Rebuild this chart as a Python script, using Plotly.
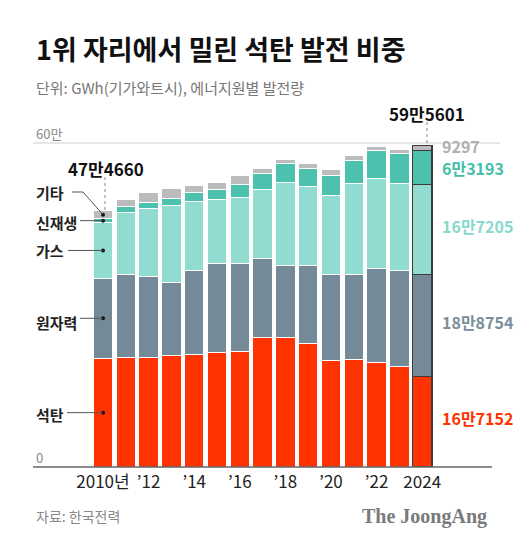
import plotly.graph_objects as go

# ---------------- data (GWh) ----------------
years = list(range(2010, 2025))
coal      = [201300, 203200, 203200, 205600, 208700, 211700, 214200, 239500, 239500, 228400, 196900, 198200, 193900, 185200, 167152]
nuclear   = [148200, 154200, 149300, 137000, 154900, 164300, 161800, 147000, 132800, 144400, 159300, 157400, 174600, 179600, 188754]
gas       = [103000, 114200, 126600, 141400, 127800, 119700, 122800, 127700, 153700, 145800, 147500, 169800, 164900, 159900, 167205]
renewable = [7400, 10500, 10400, 12900, 17300, 18600, 23500, 29700, 35200, 35100, 35200, 42600, 52400, 55000, 63193]
other     = [14760, 13700, 19200, 19200, 12900, 13000, 17200, 8600, 8700, 8700, 12400, 8600, 8200, 8000, 9297]

series_names = ["석탄", "원자력", "가스", "신재생", "기타"]
tick_years = [2010, 2012, 2014, 2016, 2018, 2020, 2022, 2024]
tick_labels = ["2010년", "’12", "’14", "’16", "’18", "’20", "’22", "2024"]
y_tick_labels = ["0", "60만"]

title_text = "1위 자리에서 밀린 석탄 발전 비중"
subtitle_text = "단위: GWh(기가와트시), 에너지원별 발전량"
source_text = "자료: 한국전력"
brand_text = "The JoongAng"

# ---------------- styling ----------------
colors = ["#ff3300", "#748a98", "#90dcd1", "#4cc2ae", "#bcbcbe"]
text_colors = ["#ff3300", "#7a8e9b", "#88d8cc", "#44bfa9", "#b0b0b0"]
KR = "Noto Sans CJK KR"

WIN_W, WIN_H = 530, 547
OFF = 8                       # page body margin
PL, PR, PT, PB = 33, 492, 143, 467   # plot area in window pixels
W, H = WIN_W - OFF, WIN_H - OFF
L = PL - OFF
T = PT - OFF
R = W - (PR - OFF)
B = H - (PB - OFF)
PW = PR - PL
PH = PB - PT
YMAX = 600000
SLOT = 22.8
XMIN = 2010 - (103 - PL) / SLOT
XMAX = XMIN + PW / SLOT


def px(x):
    return (x - PL) / PW


def py(y):
    return (PB - y) / PH


def xp(year):
    return (year - XMIN) / (XMAX - XMIN)


def yp(v):
    return v / YMAX


def man(v):
    v = int(round(v))
    if v >= 10000:
        return f"{v // 10000}만{v % 10000}"
    return str(v)


series = [coal, nuclear, gas, renewable, other]
totals = [sum(s[i] for s in series) for i in range(len(years))]

fig = go.Figure()
n = len(years)
for name, vals, col in zip(series_names, series, colors):
    fig.add_trace(go.Bar(
        x=years, y=vals, name=name,
        marker=dict(color=col,
                    line=dict(color=["white"] * (n - 1) + ["#3c3c3c"],
                              width=[1] * (n - 1) + [1.3])),
        hoverinfo="x+y+name",
    ))

# dots at middle of 2010 segments
mids = []
acc = 0
for vals in series:
    mids.append(acc + vals[0] / 2)
    acc += vals[0]
fig.add_trace(go.Scatter(
    x=[years[0]] * len(mids), y=mids, mode="markers",
    marker=dict(color="#111", size=4), hoverinfo="skip", cliponaxis=False,
))

shapes = []
# 60만 gridline and baseline
shapes.append(dict(type="line", xref="paper", yref="paper", x0=0, x1=px(500),
                   y0=yp(YMAX), y1=yp(YMAX), line=dict(color="#cfcfcf", width=1), layer="below"))
shapes.append(dict(type="line", xref="paper", yref="paper", x0=0, x1=px(492),
                   y0=0, y1=0, line=dict(color="#666", width=1.6), layer="above"))

# leader lines from left labels to dots
label_y_px = [414, 322, 250, 222, 192]
line_start_px = [67, 80, 68, 80, 72]
x_dot = xp(years[0])
for i, (ly, lx) in enumerate(zip(label_y_px, line_start_px)):
    dot_y = yp(mids[i])
    if i == 4:
        shapes.append(dict(type="path", xref="paper", yref="paper",
                           path="M {} {} L {} {} L {} {}".format(px(lx), py(ly), px(83), py(ly), x_dot, dot_y),
                           line=dict(color="#555", width=1)))
    else:
        shapes.append(dict(type="line", xref="paper", yref="paper",
                           x0=px(lx), x1=x_dot, y0=dot_y, y1=dot_y,
                           line=dict(color="#555", width=1)))

# dotted lines to total labels
shapes.append(dict(type="line", xref="paper", yref="paper",
                   x0=px(105), x1=px(105), y0=py(177), y1=yp(totals[0]),
                   line=dict(color="#888", width=1, dash="dot")))
shapes.append(dict(type="line", xref="paper", yref="paper",
                   x0=px(427), x1=px(427), y0=py(122), y1=yp(totals[-1]),
                   line=dict(color="#888", width=1, dash="dot")))

ann = []
ann.append(dict(text=f"<b>{title_text}</b>", x=px(34), y=py(48), xref="paper", yref="paper",
                xanchor="left", yanchor="middle", showarrow=False,
                font=dict(family=KR, size=27, color="#111", weight=900)))
ann.append(dict(text=subtitle_text, x=px(34), y=py(88), xref="paper", yref="paper",
                xanchor="left", yanchor="middle", showarrow=False,
                font=dict(family=KR, size=15, color="#777")))
ann.append(dict(text=y_tick_labels[1], x=px(34), y=py(133), xref="paper", yref="paper",
                xanchor="left", yanchor="middle", showarrow=False,
                font=dict(family=KR, size=13, color="#888")))
ann.append(dict(text=y_tick_labels[0], x=px(34), y=py(457), xref="paper", yref="paper",
                xanchor="left", yanchor="middle", showarrow=False,
                font=dict(family=KR, size=13, color="#888")))
# left series labels
for name, ly in zip(series_names, label_y_px):
    ann.append(dict(text=f"<b>{name}</b>", x=px(34), y=py(ly), xref="paper", yref="paper",
                    xanchor="left", yanchor="middle", showarrow=False,
                    font=dict(family=KR, size=15, color="#222")))
# right value labels (2024)
acc = 0
shifts = [4, 4, 4, -1, 2]
for vals, tc, sh in zip(series, text_colors, shifts):
    mid = acc + vals[-1] / 2
    acc += vals[-1]
    ann.append(dict(text=f"<b>{man(vals[-1])}</b>", x=px(440), y=yp(mid), xref="paper", yref="paper",
                    xanchor="left", yanchor="middle", showarrow=False, yshift=sh,
                    font=dict(family=KR, size=16, color=tc)))
# total labels
ann.append(dict(text=f"<b>{man(totals[0])}</b>", x=px(106), y=py(168), xref="paper", yref="paper",
                xanchor="center", yanchor="middle", showarrow=False,
                font=dict(family=KR, size=17, color="#111")))
ann.append(dict(text=f"<b>{man(totals[-1])}</b>", x=px(427), y=py(113), xref="paper", yref="paper",
                xanchor="center", yanchor="middle", showarrow=False,
                font=dict(family=KR, size=17, color="#111")))
# footer
ann.append(dict(text=source_text, x=px(34), y=py(516), xref="paper", yref="paper",
                xanchor="left", yanchor="middle", showarrow=False,
                font=dict(family=KR, size=14, color="#888")))
ann.append(dict(text=f"<b>{brand_text}</b>", x=px(489), y=py(516), xref="paper", yref="paper",
                xanchor="right", yanchor="middle", showarrow=False,
                font=dict(family="Liberation Serif", size=20, color="#7a7a7a")))

fig.update_layout(
    width=W, height=H,
    margin=dict(l=L, r=R, t=T, b=B),
    paper_bgcolor="white", plot_bgcolor="white",
    barmode="stack", bargap=0.15,
    showlegend=False,
    shapes=shapes, annotations=ann,
    xaxis=dict(range=[XMIN, XMAX], tickvals=tick_years, ticktext=tick_labels,
               showgrid=False, zeroline=False, showline=False, ticks="",
               ticklabelstandoff=3,
               tickfont=dict(family=KR, size=17, color="#222"), fixedrange=True),
    yaxis=dict(range=[0, YMAX], showgrid=False, zeroline=False, showline=False,
               showticklabels=False, ticks="", fixedrange=True),
)

fig.write_html("out.html")
